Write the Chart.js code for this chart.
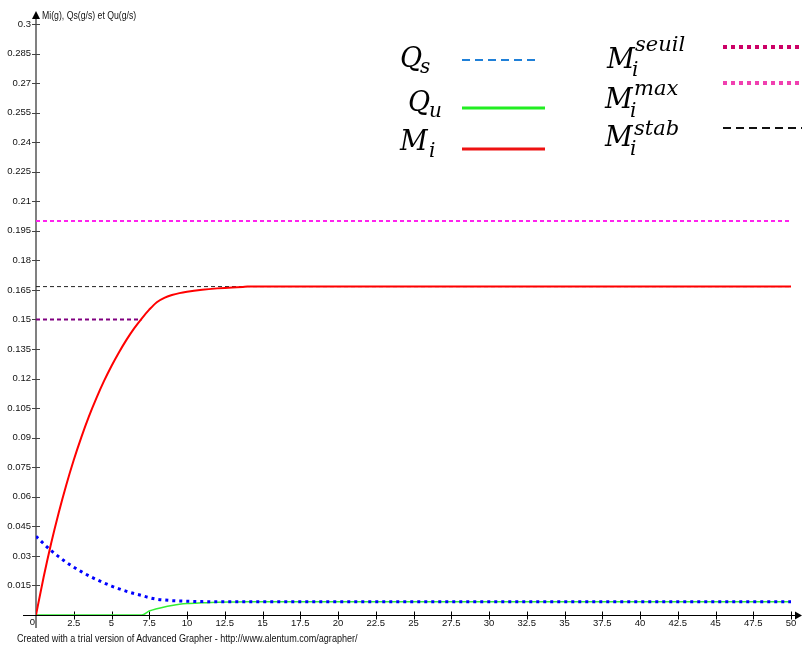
<!DOCTYPE html>
<html>
<head>
<meta charset="utf-8">
<script src="https://cdn.jsdelivr.net/npm/chart.js@4.4.1/dist/chart.umd.min.js"></script>
<style>
  html, body { margin: 0; padding: 0; background: #fff; }
  #wrap { position: relative; width: 802px; height: 645px; overflow: hidden; }
  canvas { position: absolute; left: 0; top: 0; }
  .lab { position: absolute; white-space: nowrap; font-family: "DejaVu Serif", "Liberation Serif", serif; font-style: italic; line-height: 1; color: #000; }
  .big { font-size: 27px; }
  .small { font-size: 20px; }
  .sup { font-size: 21px; }
  .ui { position: absolute; white-space: nowrap; font-family: "Liberation Sans Narrow", "Arial Narrow", "Liberation Sans", sans-serif; font-size: 10px; line-height: 1; color: #111; transform-origin: 0 0; transform: scaleX(0.87); }
  .credit { transform: scaleX(0.905); }
</style>
</head>
<body>
<div id="wrap">
  <canvas id="c" width="802" height="645"></canvas>
  <div class="ui" style="left:42px; top:11px;">Mi(g), Qs(g/s) et Qu(g/s)</div>
  <div class="ui credit" style="left:17px; top:634px;">Created with a trial version of Advanced Grapher - http://www.alentum.com/agrapher/</div>

  <div class="lab big" style="left:400px; top:44px;">Q</div>
  <div class="lab small" style="left:420px; top:56px;">s</div>

  <div class="lab big" style="left:408px; top:88px;">Q</div>
  <div class="lab small" style="left:429px; top:100px;">u</div>

  <div class="lab big" style="left:400px; top:127px;">M</div>
  <div class="lab small" style="left:429px; top:140px;">i</div>

  <div class="lab big" style="left:607px; top:45px;">M</div>
  <div class="lab sup" style="left:635px; top:34px;">seuil</div>
  <div class="lab small" style="left:632px; top:59px;">i</div>

  <div class="lab big" style="left:605px; top:85px;">M</div>
  <div class="lab sup" style="left:634px; top:78px;">max</div>
  <div class="lab small" style="left:630px; top:100px;">i</div>

  <div class="lab big" style="left:605px; top:123px;">M</div>
  <div class="lab sup" style="left:634px; top:118px;">stab</div>
  <div class="lab small" style="left:630px; top:138px;">i</div>
</div>
<script>
// ---- data ----
const tMi = [0, 0.5, 1, 1.5, 2, 2.5, 3, 3.5, 4, 4.5, 5, 5.5, 6, 6.5, 7, 7.5, 8, 8.5, 9, 9.5, 10, 11, 12, 13, 13.7, 14, 20, 30, 40, 50];
const Mi  = [0, 0.019, 0.0363, 0.0518, 0.0659, 0.0787, 0.0902, 0.1007, 0.1101, 0.1187, 0.1264, 0.1334, 0.1398, 0.1455, 0.1505, 0.155, 0.1588, 0.161, 0.1624, 0.1634, 0.1641, 0.1651, 0.1658, 0.1663, 0.1665, 0.1667, 0.1667, 0.1667, 0.1667, 0.1667];

const tQs = [0, 0.5, 1, 1.5, 2, 2.5, 3, 3.5, 4, 4.5, 5, 5.5, 6, 6.5, 7, 7.5, 8, 8.5, 9, 10, 11, 12, 13, 14, 50];
const Qs  = [0.04, 0.0362, 0.0327, 0.0296, 0.0268, 0.0243, 0.022, 0.0199, 0.018, 0.0163, 0.0147, 0.0133, 0.012, 0.0109, 0.0099, 0.0088, 0.008, 0.0076, 0.0073, 0.007, 0.0068, 0.0067, 0.00667, 0.00667, 0.00667];

const tQu = [0, 7, 7.5, 8, 8.5, 9, 9.5, 10, 11, 12, 13, 14, 50];
const Qu  = [0, 0, 0.002, 0.0032, 0.0041, 0.0048, 0.0054, 0.0058, 0.0062, 0.0065, 0.0066, 0.00667, 0.00667];

const tSeuil = [0, 7];     const MiSeuil = [0.15, 0.15];
const tMax   = [0, 50];    const MiMax   = [0.2, 0.2];
const tStab  = [0, 50];    const MiStab  = [0.1667, 0.1667];

const xMin = 0, xMax = 50, xStep = 2.5;
const yMin = 0, yMax = 0.3, yStep = 0.015;

function pts(xs, ys) { return xs.map((x, i) => ({ x: x, y: ys[i] })); }

const tickFont = { family: '"Liberation Sans Narrow", "Arial Narrow", "Liberation Sans", sans-serif', size: 9.5 };

const axesPlugin = {
  id: 'axesPlugin',
  beforeDatasetsDraw(chart) {
    const ctx = chart.ctx, xs = chart.scales.x, ys = chart.scales.y;
    const x0 = xs.getPixelForValue(0), y0 = ys.getPixelForValue(0);
    const yTop = ys.getPixelForValue(yMax);
    ctx.save();
    ctx.strokeStyle = '#808080'; ctx.lineWidth = 2;
    ctx.beginPath(); ctx.moveTo(x0, yTop - 6); ctx.lineTo(x0, y0 + 13); ctx.stroke();
    ctx.strokeStyle = '#444'; ctx.lineWidth = 1;
    for (let v = yStep; v <= yMax + 1e-9; v += yStep) {
      const py = Math.round(ys.getPixelForValue(v)) + 0.5;
      ctx.beginPath(); ctx.moveTo(x0 - 4, py); ctx.lineTo(x0 + 4, py); ctx.stroke();
    }
    ctx.fillStyle = '#000';
    ctx.beginPath(); ctx.moveTo(x0 - 4, yTop - 5); ctx.lineTo(x0 + 4, yTop - 5); ctx.lineTo(x0, yTop - 13); ctx.closePath(); ctx.fill();
    const xRight = xs.getPixelForValue(xMax);
    ctx.strokeStyle = '#000'; ctx.lineWidth = 1;
    const yy = Math.round(y0) + 0.5;
    ctx.beginPath(); ctx.moveTo(x0 - 13, yy); ctx.lineTo(xRight + 6, yy); ctx.stroke();
    for (let v = xStep; v <= xMax + 1e-9; v += xStep) {
      const px = Math.round(xs.getPixelForValue(v)) + 0.5;
      ctx.beginPath(); ctx.moveTo(px, yy - 4); ctx.lineTo(px, yy + 4); ctx.stroke();
    }
    ctx.beginPath(); ctx.moveTo(xRight + 4, yy - 4); ctx.lineTo(xRight + 4, yy + 4); ctx.lineTo(xRight + 11, yy); ctx.closePath(); ctx.fill();
    ctx.font = '9.5px ' + tickFont.family; ctx.fillStyle = '#111';
    ctx.textAlign = 'right'; ctx.textBaseline = 'top';
    ctx.fillText('0', x0 - 1, y0 + 3);
    ctx.restore();
  },
  afterDraw(chart) {
    const ctx = chart.ctx;
    const items = [
      { x1: 462, x2: 540, y: 60,  color: '#1f80d8', w: 2, dash: [8, 5] },
      { x1: 462, x2: 545, y: 108, color: '#22ee22', w: 3, dash: [] },
      { x1: 462, x2: 545, y: 149, color: '#ee1111', w: 3, dash: [] },
      { x1: 723, x2: 802, y: 47,  color: '#cc0066', w: 4, dash: [4, 4] },
      { x1: 723, x2: 802, y: 83,  color: '#f040b0', w: 4, dash: [4, 4] },
      { x1: 723, x2: 802, y: 128, color: '#111111', w: 2, dash: [8, 5] }
    ];
    ctx.save();
    items.forEach(it => {
      ctx.strokeStyle = it.color; ctx.lineWidth = it.w; ctx.setLineDash(it.dash); ctx.lineCap = 'butt';
      ctx.beginPath(); ctx.moveTo(it.x1, it.y); ctx.lineTo(it.x2, it.y); ctx.stroke();
    });
    ctx.restore();
  }
};

new Chart(document.getElementById('c'), {
  type: 'line',
  data: {
    datasets: [
      { label: 'Mi', data: pts(tMi, Mi), borderColor: '#ff0000', borderWidth: 2, pointRadius: 0, cubicInterpolationMode: 'monotone', fill: false },
      { label: 'Qs', data: pts(tQs, Qs), borderColor: '#0000ff', borderWidth: 3, borderDash: [3, 4], pointRadius: 0, cubicInterpolationMode: 'monotone', fill: false },
      { label: 'Qu', data: pts(tQu, Qu), borderColor: '#33ee33', borderWidth: 1.5, pointRadius: 0, cubicInterpolationMode: 'monotone', fill: false },
      { label: 'Mi seuil', data: pts(tSeuil, MiSeuil), borderColor: '#800080', borderWidth: 2, borderDash: [4, 3], pointRadius: 0, fill: false },
      { label: 'Mi max', data: pts(tMax, MiMax), borderColor: '#ff22ee', borderWidth: 2, borderDash: [4, 3], pointRadius: 0, fill: false },
      { label: 'Mi stab', data: pts(tStab, MiStab), borderColor: '#222222', borderWidth: 1, borderDash: [4, 3], pointRadius: 0, fill: false }
    ]
  },
  options: {
    responsive: false,
    devicePixelRatio: 1,
    animation: false,
    layout: { padding: { left: 0, top: 24, right: 11, bottom: 0 } },
    plugins: { legend: { display: false }, tooltip: { enabled: false } },
    scales: {
      x: {
        type: 'linear', min: xMin, max: xMax,
        afterFit: s => { s.height = 30; },
        grid: { display: false, drawTicks: false },
        border: { display: false },
        ticks: { stepSize: xStep, autoSkip: false, maxRotation: 0, padding: 3, color: '#111', font: tickFont,
                 callback: v => (v === 0 ? '' : String(parseFloat(v.toFixed(2)))) }
      },
      y: {
        type: 'linear', min: yMin, max: yMax,
        afterFit: s => { s.width = 36; },
        grid: { display: false, drawTicks: false },
        border: { display: false },
        ticks: { stepSize: yStep, autoSkip: false, padding: 5, color: '#111', font: tickFont,
                 callback: v => (Math.abs(v) < 1e-9 ? '' : String(parseFloat(v.toFixed(3)))) }
      }
    }
  },
  plugins: [axesPlugin]
});
</script>
</body>
</html>
